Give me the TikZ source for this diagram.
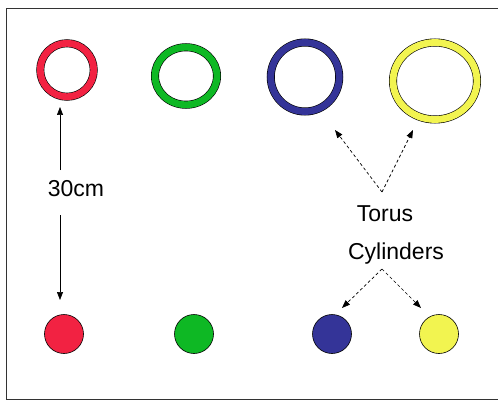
\documentclass[tikz,border=0pt]{standalone}
\usepackage{fontspec}
\setmainfont{Liberation Sans}
\usetikzlibrary{shapes.geometric,arrows.meta}

\definecolor{ringred}{RGB}{242,34,66}
\definecolor{ringgreen}{RGB}{14,184,36}
\definecolor{ringblue}{RGB}{52,52,152}
\definecolor{ringyellow}{RGB}{242,244,80}

\tikzset{
  torus/.style={ellipse, inner sep=0pt, draw=black, line width=0.6pt, double distance=6.8pt},
  cylinder/.style={circle, inner sep=0pt, minimum size=39pt, draw=black, line width=0.6pt},
  lbl/.style={anchor=base, inner sep=0pt, font=\fontsize{23}{28}\selectfont},
  solidarrow/.style={-{Triangle[length=8pt,width=6pt]}, line width=0.7pt},
  dasharrow/.style={-{Triangle[length=8pt,width=6pt]}, line width=0.7pt, dash pattern=on 3pt off 2.5pt}
}

\begin{document}
\begin{tikzpicture}[x=1pt, y=-1pt]
			\useasboundingbox (0,0) rectangle (498,401);
			\draw[line width=0.9pt, black!80] (498,8) -- (6,8) -- (6,399) -- (498,399);

			\draw (67, 70) 	node[torus, double=ringred, minimum width=53.5pt, minimum height=53.5pt] 	(t_red) 	{};
			\draw (186, 76) node[torus, double=ringgreen, minimum width=62pt, minimum height=57.5pt] 	(t_green) 	{};
			\draw (305, 77) node[torus, double=ringblue, minimum width=68.5pt, minimum height=69pt] 	(t_blue) 	{};
			\draw (435, 81) node[torus, double=ringyellow, minimum width=84pt, minimum height=77pt] 	(t_yellow) 	{};

			\draw (64, 334) 	node[cylinder, fill=ringred] 	(c_red) 	{};
			\draw (194, 334) 	node[cylinder, fill=ringgreen] 	(c_green) 	{};
			\draw (332, 334) 	node[cylinder, fill=ringblue] 	(c_blue) 	{};
			\draw (439, 334) 	node[cylinder, fill=ringyellow] (c_yellow) 	{};

			\draw (76, 196) 	node[lbl] 	(dist) 		{30cm};
			\draw (385, 221) 	node[lbl] 	(torus) 	{Torus};
			\draw (396, 259) 	node[lbl] 	(cyls) 		{Cylinders};

			\coordinate (d_up) at (60, 170);
			\coordinate (d_upend) at (60, 107);
			\coordinate (d_down) at (60, 215);
			\coordinate (d_downend) at (60, 300);
			\coordinate (t_root) at (382, 192);
			\coordinate (t_left) at (335, 130);
			\coordinate (t_right) at (413, 130);
			\coordinate (c_root) at (382, 269);
			\coordinate (c_left) at (342, 308);
			\coordinate (c_right) at (421, 308);

			\draw[solidarrow] (d_up) -- (d_upend);
			\draw[solidarrow] (d_down) -- (d_downend);
			\draw[dasharrow] (t_root) -- (t_left);
			\draw[dasharrow] (t_root) -- (t_right);
			\draw[dasharrow] (c_root) -- (c_left);
			\draw[dasharrow] (c_root) -- (c_right);
		\end{tikzpicture}
\end{document}
